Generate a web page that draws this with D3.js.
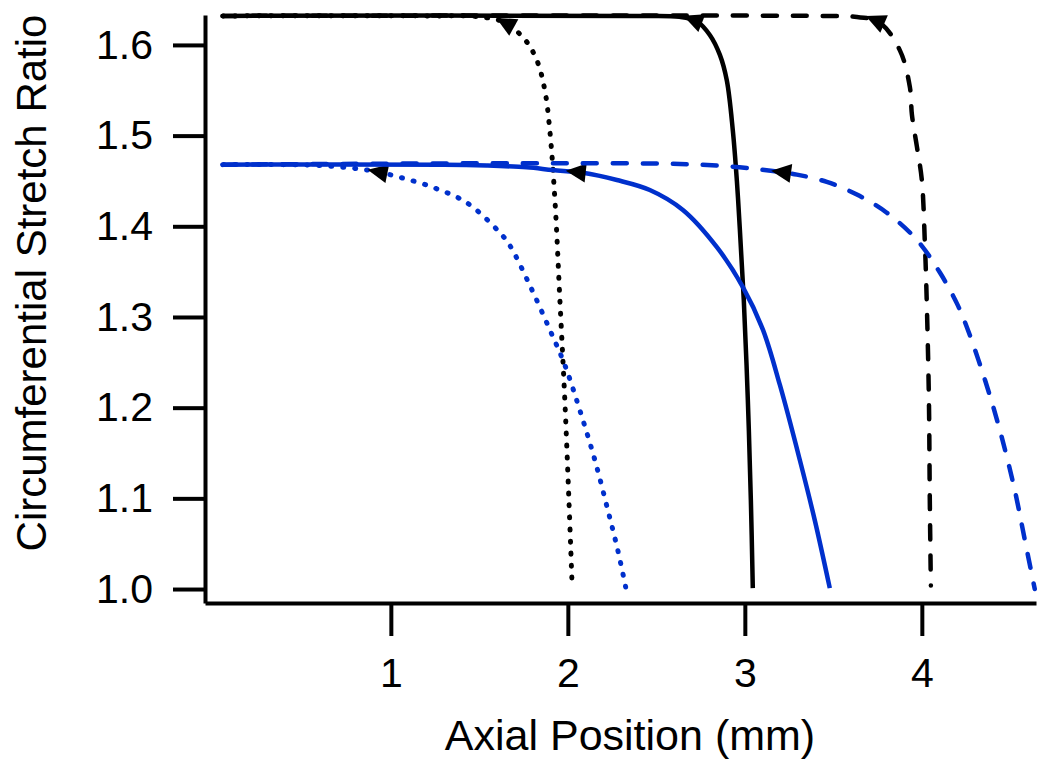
<!DOCTYPE html>
<html>
<head>
<meta charset="utf-8">
<title>Circumferential Stretch Ratio</title>
<script src="https://d3js.org/d3.v7.min.js"></script>
<style>
  body { margin: 0; background: #fff; overflow: hidden; }
  svg text { font-family: "Liberation Sans", Arial, sans-serif; fill: #000; }
  .axis path, .axis line { stroke: #000; stroke-width: 4px; }
  .axis text { font-size: 41px; }
  .curve { fill: none; stroke-linejoin: round; }
</style>
</head>
<body>
<svg width="1050" height="768"></svg>
<script>
// data: [axial position (mm), stretch ratio]
const blackDotted = [[0.05,1.632],[1.2,1.632],[1.5,1.631],[1.64,1.625],[1.757,1.606],[1.825,1.583],[1.87,1.55],[1.898,1.506],[1.927,1.429],[1.955,1.319],[1.983,1.208],[2.006,1.098],[2.023,1.01]];
const blackSolid = [[0.05,1.632],[2.4,1.632],[2.63,1.631],[2.729,1.626],[2.802,1.611],[2.859,1.589],[2.898,1.561],[2.932,1.506],[2.955,1.45],[2.972,1.396],[2.994,1.319],[3.017,1.208],[3.034,1.098],[3.045,1.001]];
const blackDashed = [[0.05,1.632],[3.4,1.632],[3.62,1.631],[3.76,1.625],[3.876,1.594],[3.932,1.554],[3.944,1.523],[3.972,1.488],[4.0,1.451],[4.017,1.382],[4.028,1.315],[4.04,1.208],[4.045,1.098],[4.051,1.004]];
const blueDotted = [[0.05,1.468],[0.6,1.467],[0.9,1.461],[1.051,1.454],[1.237,1.443],[1.429,1.426],[1.616,1.393],[1.672,1.379],[1.785,1.335],[1.898,1.286],[1.983,1.247],[2.068,1.197],[2.153,1.142],[2.226,1.087],[2.282,1.043],[2.328,1.001]];
const blueSolid = [[0.05,1.468],[1.3,1.468],[1.542,1.467],[1.768,1.465],[1.915,1.462],[2.085,1.459],[2.277,1.451],[2.463,1.44],[2.65,1.418],[2.842,1.377],[2.989,1.333],[3.102,1.286],[3.198,1.225],[3.311,1.142],[3.395,1.076],[3.48,1.001]];
const blueDashed = [[0.05,1.468],[2.559,1.469],[2.915,1.466],[3.158,1.461],[3.294,1.457],[3.463,1.449],[3.633,1.435],[3.802,1.415],[3.972,1.385],[4.102,1.349],[4.198,1.315],[4.254,1.289],[4.356,1.231],[4.441,1.175],[4.525,1.109],[4.582,1.054],[4.638,1.0]];

// where the left-pointing arrowheads sit (x in mm)
const arrowX = [1.65, 2.71, 3.74, 0.93, 2.05, 3.21];

const xTicks = [1, 2, 3, 4];
const yTicks = [1.0, 1.1, 1.2, 1.3, 1.4, 1.5, 1.6];

const series = [
  { data: blackDotted, color: "#000", dash: "1,11", width: 5 },
  { data: blackSolid, color: "#000", dash: null, width: 4.5 },
  { data: blackDashed, color: "#000", dash: "14,16", width: 4.5 },
  { data: blueDotted, color: "#0030cc", dash: "1,11", width: 5 },
  { data: blueSolid, color: "#0030cc", dash: null, width: 4.5 },
  { data: blueDashed, color: "#0030cc", dash: "14,16", width: 4.5 }
];

let svg = d3.select("svg");

let x = d3.scaleLinear().domain([-0.05, 4.645]).range([205, 1036]);
let y = d3.scaleLinear().domain([0.9846, 1.633]).range([603, 15]);

// axes
svg.append("g")
  .attr("class", "axis")
  .attr("transform", "translate(0,603)")
  .call(d3.axisBottom(x).tickValues(xTicks).tickFormat(d3.format("d"))
    .tickSize(33).tickSizeOuter(0).tickPadding(22));

svg.append("g")
  .attr("class", "axis")
  .attr("transform", "translate(205,0)")
  .call(d3.axisLeft(y).tickValues(yTicks).tickFormat(d3.format(".1f"))
    .tickSize(32).tickSizeOuter(0).tickPadding(20));

svg.selectAll(".axis text").attr("fill", "#000");

// axis titles
svg.append("text")
  .attr("x", 630).attr("y", 750)
  .attr("text-anchor", "middle")
  .style("font-size", "43px")
  .text("Axial Position (mm)");

svg.append("text")
  .attr("transform", "translate(46,283) rotate(-90)")
  .attr("text-anchor", "middle")
  .style("font-size", "42px")
  .text("Circumferential Stretch Ratio");

// curves
let line = d3.line()
  .x(d => x(d[0]))
  .y(d => y(d[1]))
  .curve(d3.curveCatmullRom.alpha(0.5));

series.forEach((s, i) => {
  let path = svg.append("path")
    .attr("class", "curve")
    .attr("d", line(s.data))
    .attr("stroke", s.color)
    .attr("stroke-width", s.width)
    .attr("stroke-linecap", s.dash ? "round" : "butt")
    .attr("stroke-dasharray", s.dash);

  // find the point along the path where it reaches the arrow x
  let node = path.node();
  let total = node.getTotalLength();
  let target = x(arrowX[i]);
  let lo = 0, hi = total;
  for (let k = 0; k < 40; k++) {
    let mid = (lo + hi) / 2;
    if (node.getPointAtLength(mid).x < target) lo = mid; else hi = mid;
  }
  let p = node.getPointAtLength(lo);
  let pa = node.getPointAtLength(Math.max(0, lo - 4));
  let pb = node.getPointAtLength(Math.min(total, lo + 4));
  let ang = Math.atan2(pa.y - pb.y, pa.x - pb.x) * 180 / Math.PI;

  svg.append("path")
    .attr("d", "M11,0L-9,-9.5L-9,9.5Z")
    .attr("fill", "#000")
    .attr("transform", `translate(${p.x},${p.y}) rotate(${ang})`);
});
</script>
</body>
</html>
